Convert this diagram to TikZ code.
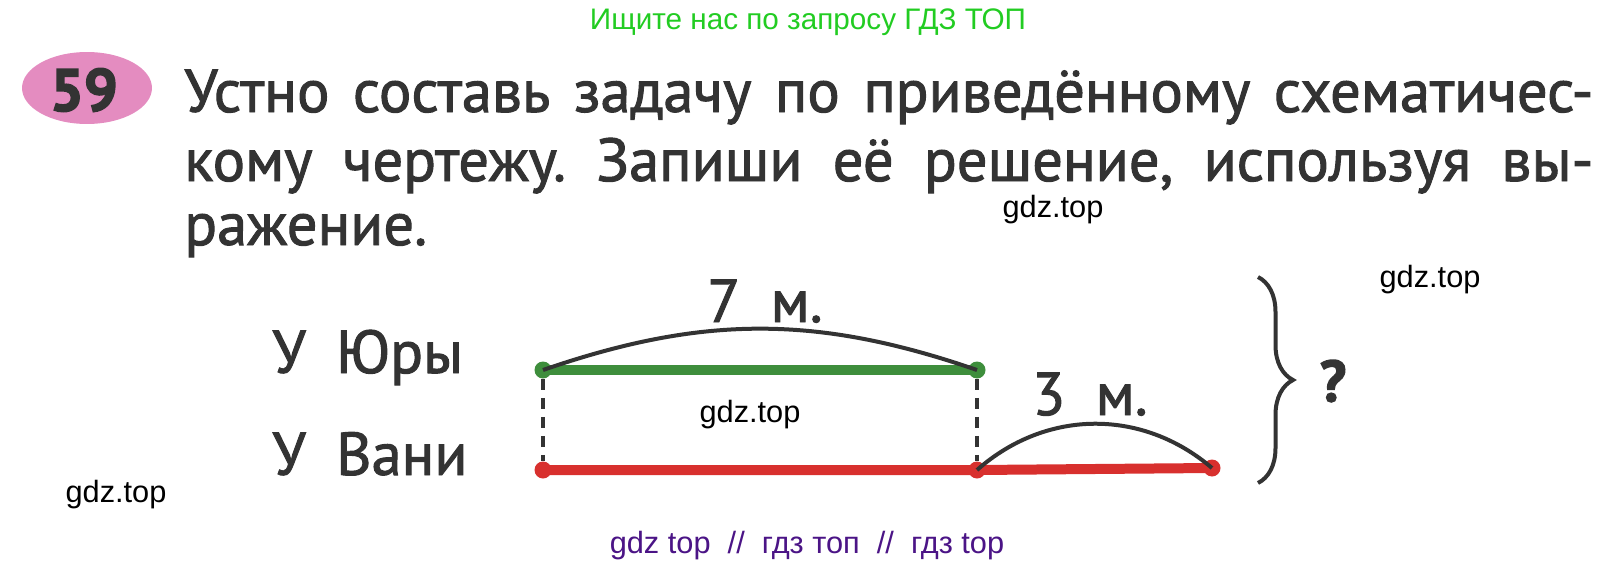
\documentclass[tikz,border=0pt]{standalone}
\usepackage{fontspec}
\setmainfont{PT Sans}
\newfontfamily\medfont{PT Sans}[FakeBold=1.6]
\newfontfamily\heavyfont{PT Sans Bold}[FakeBold=2.5]
\newfontfamily\wmfont{Liberation Sans}
\usetikzlibrary{positioning,shapes.geometric,decorations.pathreplacing}
\definecolor{inkgray}{HTML}{333333}
\definecolor{linegreen}{HTML}{3E8E3C}
\definecolor{linered}{HTML}{D8302E}
\definecolor{pinkbg}{HTML}{E48CC0}
\definecolor{wmgreen}{HTML}{22CC22}
\definecolor{wmpurple}{HTML}{4B1486}
\tikzset{
  maintext/.style={font=\medfont\fontsize{34.5}{40}\selectfont, text=inkgray, inner sep=0pt},
  wmark/.style={font=\wmfont\fontsize{17.5}{20}\selectfont, inner sep=0pt},
  dot/.style={circle, inner sep=0pt, minimum size=0.34cm}
}
\frenchspacing

\begin{document}
\begin{tikzpicture}[x=0.02cm,y=-0.02cm]
    \useasboundingbox (0,0) rectangle (1615,568);

    %Task header
    \node[ellipse, fill=pinkbg, minimum width=2.6cm, minimum height=1.44cm, inner sep=0pt] (num) at (87,88) {};
    \node[text=inkgray, font=\heavyfont\fontsize{34}{38}\selectfont, inner sep=0pt] (numtext) at (84,90) {59};
    \node[maintext, anchor=base west] (line1) at (184,112)
      {\makebox[802pt][s]{Устно составь задачу по приведённому схематичес-}};
    \node[maintext, anchor=base west] (line2) at (184,181)
      {\makebox[802pt][s]{кому чертежу. Запиши её решение, используя вы-}};
    \node[maintext, anchor=base west] (line3) at (184,245) {ражение.};

    %Scheme
    \node[maintext, anchor=base west] (yura) at (272,373) {У\enspace Юры};
    \node[maintext, anchor=base west] (vanya) at (272,475) {У\enspace Вани};

    \begin{scope}[every node/.style={dot, fill=linegreen}]
      \node (y1) at (543,370) {};
      \node (y2) at (977,370) {};
    \end{scope}
    \begin{scope}[every node/.style={dot, fill=linered}]
      \node (v1) at (543,470) {};
      \node (v2) at (977,470) {};
      \node (v3) at (1212,468) {};
    \end{scope}

    \draw[linegreen, line width=0.2cm] (y1.center) -- (y2.center);
    \draw[linered, line width=0.2cm] (v1.center) -- (v2.center) -- (v3.center);

    \begin{scope}[every edge/.style={draw, inkgray, line width=0.08cm, dash pattern=on 0.22cm off 0.16cm}]
      \path (y1) edge (v1);
      \path (y2) edge (v2);
    \end{scope}

    \begin{scope}[every edge/.style={draw, inkgray, line width=0.08cm}]
      \path (y1.center) edge[bend left=19] (y2.center);
      \path (v2.center) edge[bend left=41] (v3.center);
    \end{scope}

    \node[maintext, anchor=base] (seven) at (765,322) {7\enspace м.};
    \node[maintext, anchor=base] (three) at (1090,415) {3\enspace м.};

    \coordinate (btop) at (1258,277);
    \coordinate (bbot) at (1258,483);
    \draw[inkgray, line width=0.08cm, decoration={brace, amplitude=0.7cm}, decorate] (btop) -- (bbot);
    \node[text=inkgray, font=\heavyfont\fontsize{33}{38}\selectfont, inner sep=0pt] (quest) at (1333,381) {?};

    %Watermarks
    \node[wmark, text=wmgreen, font=\wmfont\fontsize{16.9}{20}\selectfont, anchor=base] (wtop) at (808,30) {Ищите нас по запросу ГДЗ ТОП};
    \node[wmark] (w1) at (1053,210) {gdz.top};
    \node[wmark] (w2) at (1430,280) {gdz.top};
    \node[wmark] (w3) at (750,415) {gdz.top};
    \node[wmark] (w4) at (116,495) {gdz.top};
    \node[wmark, text=wmpurple, anchor=base] (wbot) at (807,553) {gdz top\ \ //\ \ гдз топ\ \ //\ \ гдз top};
\end{tikzpicture}
\end{document}
